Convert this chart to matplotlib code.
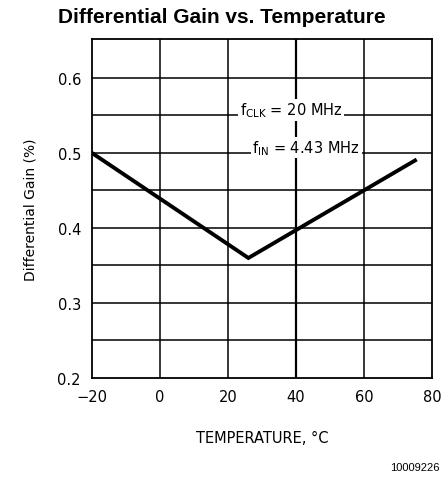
import matplotlib
matplotlib.use("Agg")
import matplotlib.pyplot as plt

# Data
temperature = [-20, 26, 75]
diff_gain = [0.50, 0.36, 0.49]

x_ticks = [-20, 0, 20, 40, 60, 80]
y_ticks = [0.2, 0.3, 0.4, 0.5, 0.6]
y_grid = [0.25, 0.35, 0.45, 0.55]

plt.rcParams['font.family'] = ['DejaVu Sans']

fig = plt.figure(figsize=(4.44, 4.81), dpi=100)
ax = fig.add_axes([0.2072, 0.2121, 0.7658, 0.7048])

ax.set_xlim(-20, 80)
ax.set_ylim(0.2, 0.652)

# grid
for xv in x_ticks[1:-1]:
    ax.axvline(xv, color='black', lw=1.6 if xv == 40 else 1.1, zorder=1)
for yv in y_ticks[1:] + y_grid:
    ax.axhline(yv, color='black', lw=1.1, zorder=1)

ax.plot(temperature, diff_gain, color='black', lw=2.8, solid_joinstyle='miter', zorder=3)

for s in ax.spines.values():
    s.set_linewidth(1.3)

ax.set_xticks(x_ticks)
ax.set_yticks(y_ticks)
ax.set_xticklabels(['\u221220', '0', '20', '40', '60', '80'])
ax.set_yticklabels([f'{v:.1f}' for v in y_ticks])
ax.tick_params(length=0, labelsize=10.5, pad=8)

ax.set_xlabel('TEMPERATURE, \u00b0C', fontsize=10.5, labelpad=19)
ax.set_ylabel('Differential Gain (%)', fontsize=10, labelpad=14)

box = dict(facecolor='white', edgecolor='none', pad=1.0)
ax.text(38.5, 0.551, r'f$_{\mathrm{CLK}}$ = 20 MHz', fontsize=10.5, ha='center', va='baseline',
        bbox=box, zorder=4)
ax.text(43, 0.501, r'f$_{\mathrm{IN}}$ = 4.43 MHz', fontsize=10.5, ha='center', va='baseline',
        bbox=box, zorder=4)

fig.text(0.5, 0.963, 'Differential Gain vs. Temperature', fontsize=15, fontweight='bold',
         family='Liberation Sans', ha='center', va='center')
fig.text(0.99, 0.028, '10009226', fontsize=8, family='Liberation Sans', ha='right', va='center')

fig.savefig('out.png', dpi=100)
